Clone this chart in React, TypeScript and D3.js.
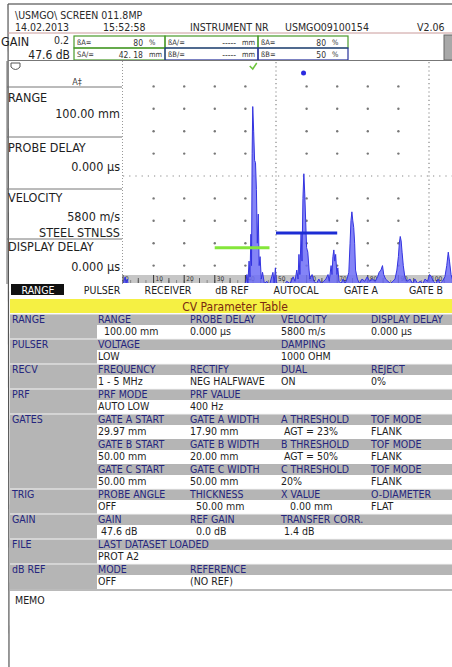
import React from 'react';
import * as d3 from 'd3';

const W = 452;
const H = 667;
const F = "'DejaVu Sans Condensed','DejaVu Sans',sans-serif";

// ---- A-scan (depth in mm, amplitude in % screen height) ----
const scanMm = [0, 0.3, 0.7, 1.0, 1.4, 1.8, 2.5, 39.0, 39.5, 40.2, 40.5, 40.8, 41.2, 41.5, 41.8, 42.0, 42.2, 42.4, 42.7, 43.0, 43.3, 43.6, 43.9, 44.2, 44.5, 44.8, 45.2, 45.6, 46.2, 47.0, 47.8, 48.6, 49.0, 49.4, 49.8, 50.1, 50.6, 51.5, 52.5, 53.5, 54.6, 55.6, 56.2, 56.8, 57.2, 57.5, 57.8, 58.2, 58.5, 58.8, 59.1, 59.4, 59.7, 60.0, 60.4, 60.8, 61.1, 61.8, 62.4, 63.2, 64.0, 64.8, 65.6, 66.3, 67.0, 67.4, 68.0, 68.3, 68.6, 68.9, 69.2, 69.5, 69.9, 70.2, 70.6, 71.3, 71.9, 72.6, 73.2, 73.8, 74.2, 74.5, 74.8, 75.1, 75.4, 75.7, 76.0, 76.6, 77.3, 78.1, 79.0, 79.8, 80.6, 81.5, 82.4, 83.2, 83.7, 84.3, 84.8, 85.2, 85.8, 86.6, 87.4, 88.2, 88.9, 89.5, 90.0, 90.3, 90.6, 90.9, 91.2, 91.6, 92.1, 92.8, 93.8, 94.6, 95.4, 96.3, 97.1, 98.0, 98.7, 99.5, 100.2, 100.8, 101.4, 102.2, 103.0, 103.6, 104.4, 105.2, 105.8, 106.3, 106.7, 107.2, 107.8];
const scanAmp = [0, 3, 5, 2, 4, 1, 0, 0, 1, 3, 6, 2, 12, 5, 24, 10, 60, 81, 70, 57, 56, 44, 20, 33, 10, 14, 4, 7, 2, 3, 1, 5, 7, 2, 9, 3, 1, 2, 1, 3, 2, 5, 3, 8, 4, 15, 6, 25, 12, 40, 51, 42, 30, 18, 16, 8, 4, 6, 3, 2, 4, 2, 3, 4, 6, 3, 10, 6, 14, 17, 12, 15, 6, 9, 3, 2, 4, 2, 4, 7, 20, 30, 34, 30, 27, 20, 8, 4, 2, 4, 3, 5, 3, 4, 3, 5, 7, 8, 10, 6, 4, 3, 2, 3, 4, 8, 14, 20, 23, 21, 16, 10, 5, 3, 4, 2, 4, 2, 3, 2, 4, 3, 6, 5, 3, 2, 4, 2, 3, 5, 10, 16, 12, 6, 3];

// gates
const gateStart = [29.97, 50.0];
const gateWidth = [17.9, 20.0];
const gateLevel = [18, 24.5];
const gateColor = ['#84e63a', '#1c2cd4'];

// peak markers
const peakMarkMm = [42.4, 59.0];

// axis
const axisMajor = [0, 10, 20, 30, 40, 50, 60, 70, 80, 90, 100];
const gridCols = [10, 20, 30, 40, 60, 70, 80, 90];
const gridRows = [10, 20, 30, 40, 60, 70, 80, 90];

// header readouts
const readLabels = [['ßA=', 'ßA/=', 'ßA='], ['SA/=', 'ßB/=', 'ßB=']];
const readValues = [['80', '-----', '80'], ['42. 18', '-----', '50']];
const readUnits = [['%', 'mm', '%'], ['mm', 'mm', '%']];

// left panel
const panelLabels = ['RANGE', 'PROBE DELAY', 'VELOCITY', 'DISPLAY DELAY'];
const panelValues = [['100.00 mm'], ['0.000 µs'], ['5800 m/s', 'STEEL STNLSS'], ['0.000 µs']];

// tabs
const tabs = ['RANGE', 'PULSER', 'RECEIVER', 'dB REF', 'AUTOCAL', 'GATE A', 'GATE B'];

// parameter table
const sectionLabels = ['RANGE', 'PULSER', 'RECV', 'PRF', 'GATES', '', '', 'TRIG', 'GAIN', 'FILE', 'dB REF'];
const tableHeaders = [
  ['RANGE', 'PROBE DELAY', 'VELOCITY', 'DISPLAY DELAY'],
  ['VOLTAGE', '', 'DAMPING', ''],
  ['FREQUENCY', 'RECTIFY', 'DUAL', 'REJECT'],
  ['PRF MODE', 'PRF VALUE', '', ''],
  ['GATE A START', 'GATE A WIDTH', 'A THRESHOLD', 'TOF MODE'],
  ['GATE B START', 'GATE B WIDTH', 'B THRESHOLD', 'TOF MODE'],
  ['GATE C START', 'GATE C WIDTH', 'C THRESHOLD', 'TOF MODE'],
  ['PROBE ANGLE', 'THICKNESS', 'X VALUE', 'O-DIAMETER'],
  ['GAIN', 'REF GAIN', 'TRANSFER CORR.', ''],
  ['LAST DATASET LOADED', '', '', ''],
  ['MODE', 'REFERENCE', '', ''],
];
const tableValues = [
  ['  100.00 mm', '0.000 µs', '5800 m/s', '0.000 µs'],
  ['LOW', '', '1000 OHM', ''],
  ['1 - 5 MHz', 'NEG HALFWAVE', 'ON', '0%'],
  ['AUTO LOW', '400 Hz', '', ''],
  ['29.97 mm', '17.90 mm', ' AGT = 23%', 'FLANK'],
  ['50.00 mm', '20.00 mm', ' AGT = 50%', 'FLANK'],
  ['50.00 mm', '50.00 mm', '20%', 'FLANK'],
  ['OFF', '  50.00 mm', '   0.00 mm', 'FLAT'],
  [' 47.6 dB', '  0.0 dB', ' 1.4 dB', ''],
  ['PROT A2', '', '', ''],
  ['OFF', '(NO REF)', '', ''],
];

type TP = { x: number; y: number; s?: number; c?: string; a?: string; w?: string | number; children: React.ReactNode };
function T({ x, y, s = 10.5, c = '#2a2a2a', a = 'start', w = 'normal', children }: TP) {
  return (
    <text x={x} y={y} fontSize={s} fill={c} textAnchor={a as any} fontWeight={w}
      style={{ fontFamily: F, fontStretch: 'condensed', whiteSpace: 'pre' }}>{children}</text>
  );
}

export default function App() {
  const x = d3.scaleLinear().domain([0, 100]).range([123, 429]);
  const y = d3.scaleLinear().domain([0, 100]).range([288, 64]);
  const pts: [number, number][] = scanMm.map((m, i) => [m, scanAmp[i]]);
  const area = d3.area<[number, number]>().x(d => x(d[0])).y0(y(0)).y1(d => y(d[1]));
  const line = d3.line<[number, number]>().x(d => x(d[0])).y(d => y(d[1]));
  const minor = d3.range(0, 110, 5).filter(v => v % 10 !== 0);
  const smallTicks = d3.range(0, 108, 2.5);

  const boxX = [74, 165, 258];
  const boxW = [91, 93, 90];
  const boxRowY = [36, 48];
  const tabCenters = [38, 102, 168, 232, 296, 361, 426];
  const colX = [98, 190, 281, 371];
  const tableTop = 314;
  const pair = 25;
  const headH = 11;
  const navy = '#25257e';

  const panelLines = [87, 137, 189, 239];
  const panelLabelY = [102, 152, 202, 251];
  const panelValueY = [[118], [171], [221, 237], [271]];

  return (
    <svg width={W} height={H} style={{ position: 'absolute', left: 0, top: 0, background: '#fff' }}>
      <defs>
        <clipPath id="scan"><rect x={123} y={61} width={W - 123} height={222} /></clipPath>
      </defs>
      <rect x={0} y={0} width={W} height={H} fill="#fff" />
      {/* screen frame */}
      <line x1={8} y1={4} x2={W} y2={4} stroke="#333" strokeWidth={1.2} />
      <line x1={8} y1={4} x2={9} y2={H} stroke="#555" strokeWidth={1.2} />

      {/* header */}
      <T x={15} y={19}>{'\\USMGO\\ SCREEN 011.8MP'}</T>
      <T x={15} y={31}>14.02.2013</T>
      <T x={103} y={31}>15:52:58</T>
      <T x={190} y={31}>INSTRUMENT NR</T>
      <T x={285} y={31}>USMGO09100154</T>
      <T x={417} y={31}>V2.06</T>
      <line x1={8} y1={33} x2={W} y2={33} stroke="#c99a9a" strokeWidth={1} />
      <T x={1} y={46} s={12.5} c="#1e1e1e">GAIN</T>
      <T x={69} y={44} s={10.5} a="end">0.2</T>
      <T x={70} y={58.5} s={12} a="end" c="#1e1e1e">47.6 dB</T>
      {boxRowY.map((by, r) => boxX.map((bx, g) => {
        const col = r === 0 || g === 0 ? '#4a9a2a' : '#25309a';
        return (
          <g key={`b${r}${g}`}>
            <rect x={bx} y={by} width={boxW[g]} height={12} fill="none" stroke={col} strokeWidth={1.2} />
            <T x={bx + 3} y={by + 9} s={7.5} c="#333">{readLabels[r][g]}</T>
            <T x={bx + boxW[g] - 22} y={by + 9.5} s={8.5} a="end" c="#333">{readValues[r][g]}</T>
            <T x={bx + boxW[g] - 16} y={by + 9} s={7.5} c="#333">{readUnits[r][g]}</T>
          </g>
        );
      }))}
      <rect x={444} y={35} width={10} height={25} fill="#a8a8a8" stroke="#666" />
      <line x1={8} y1={60.5} x2={W} y2={60.5} stroke="#777" strokeWidth={1} />

      {/* left panel */}
      <path d="M 11 63 L 20 63 L 20 67 Q 15.5 72 11 67 Z" fill="none" stroke="#555" strokeWidth={1} />
      <T x={77} y={85} s={9} a="middle" c="#444">A‡</T>
      {panelLines.map((t, i) => (
        <g key={`p${i}`}>
          <line x1={7} y1={t} x2={122} y2={t} stroke="#777" strokeWidth={1} />
          <T x={8} y={panelLabelY[i]} s={12.5} c="#1e1e1e">{panelLabels[i]}</T>
          {panelValues[i].map((v, j) => (
            <T key={j} x={120} y={panelValueY[i][j]} s={12.5} a="end" c="#1e1e1e">{v}</T>
          ))}
        </g>
      ))}
      <line x1={7} y1={61} x2={7} y2={284} stroke="#666" strokeWidth={1} />

      {/* chart grid */}
      <line x1={122.5} y1={61} x2={122.5} y2={284} stroke="#999" strokeDasharray="1 2" />
      {gridCols.map(c => gridRows.map(r => (
        <circle key={`d${c}-${r}`} cx={x(c)} cy={y(r)} r={1.2} fill="#777" />
      )))}
      <line x1={123} y1={y(50)} x2={W} y2={y(50)} stroke="#888" strokeDasharray="1.2 5" strokeWidth={1.2} />
      {[50, 100].map(v => (
        <line key={`v${v}`} x1={x(v)} y1={62} x2={x(v)} y2={283} stroke="#888" strokeDasharray="1.2 3" strokeWidth={1.2} />
      ))}

      {/* axis strip */}
      <rect x={123} y={275} width={W - 123} height={8} fill="#c6c6c6" />
      {smallTicks.map(v => (
        <line key={`s${v}`} x1={x(v)} y1={280} x2={x(v)} y2={283} stroke="#777" strokeWidth={0.8} />
      ))}
      {minor.map(v => (
        <line key={`m${v}`} x1={x(v)} y1={278} x2={x(v)} y2={283} stroke="#555" strokeWidth={1} />
      ))}
      {axisMajor.map(v => (
        <g key={`a${v}`}>
          <line x1={x(v)} y1={275} x2={x(v)} y2={283} stroke="#333" strokeWidth={1} />
          <T x={x(v) + 2} y={281} s={6.5} c="#333">{String(v)}</T>
        </g>
      ))}

      {/* A-scan */}
      <g clipPath="url(#scan)">
        <path d={area(pts) || ''} fill="#6f6ff6" fillOpacity={0.85} />
        <path d={line(pts) || ''} fill="none" stroke="#3434e0" strokeWidth={1} />
      </g>

      {/* gates */}
      {gateStart.map((s, i) => (
        <line key={`g${i}`} x1={x(s)} x2={x(s + gateWidth[i])} y1={y(gateLevel[i])} y2={y(gateLevel[i])}
          stroke={gateColor[i]} strokeWidth={3} />
      ))}

      {/* peak markers */}
      <path d={`M ${x(peakMarkMm[0]) - 3} 66 L ${x(peakMarkMm[0])} 69 L ${x(peakMarkMm[0]) + 4} 63`} fill="none" stroke="#6cc43a" strokeWidth={1.5} />
      <circle cx={x(peakMarkMm[1])} cy={73} r={2.5} fill="#2a2ae0" />

      {/* tabs */}
      <rect x={11} y={284} width={53} height={11} fill="#111" />
      {tabs.map((t, i) => (
        <T key={t} x={tabCenters[i]} y={294} s={10.5} a="middle" c={i === 0 ? '#fff' : '#222'}>{t}</T>
      ))}

      {/* parameter table */}
      <rect x={10} y={299} width={W - 10} height={14} fill="#f5f043" />
      <T x={235} y={310.5} s={12} a="middle" c="#7a2a10">CV Parameter Table</T>
      {tableHeaders.map((row, i) => {
        const top = tableTop + i * pair;
        return (
          <g key={`r${i}`}>
            <rect x={10} y={top} width={W - 10} height={headH} fill="#b5b5b5" />
            <rect x={10} y={top} width={87} height={pair} fill="#b5b5b5" />
            {sectionLabels[i] !== '' && (
              <line x1={10} y1={top} x2={W} y2={top} stroke="#f4f4f4" strokeWidth={1} />
            )}
            {sectionLabels[i] !== '' && <T x={12} y={top + 9} s={10.5} c={navy}>{sectionLabels[i]}</T>}
            {row.map((h, j) => h && <T key={`h${j}`} x={colX[j]} y={top + 9} s={10.5} c={navy}>{h}</T>)}
            {tableValues[i].map((v, j) => v && <T key={`v${j}`} x={colX[j]} y={top + headH + 10} s={10.5} c="#1e1e1e">{v}</T>)}
          </g>
        );
      })}
      <line x1={10} y1={tableTop + 11 * pair + 1} x2={W} y2={tableTop + 11 * pair + 1} stroke="#777" strokeWidth={1} />
      <T x={15} y={604} s={10.5} c="#222">MEMO</T>
    </svg>
  );
}
